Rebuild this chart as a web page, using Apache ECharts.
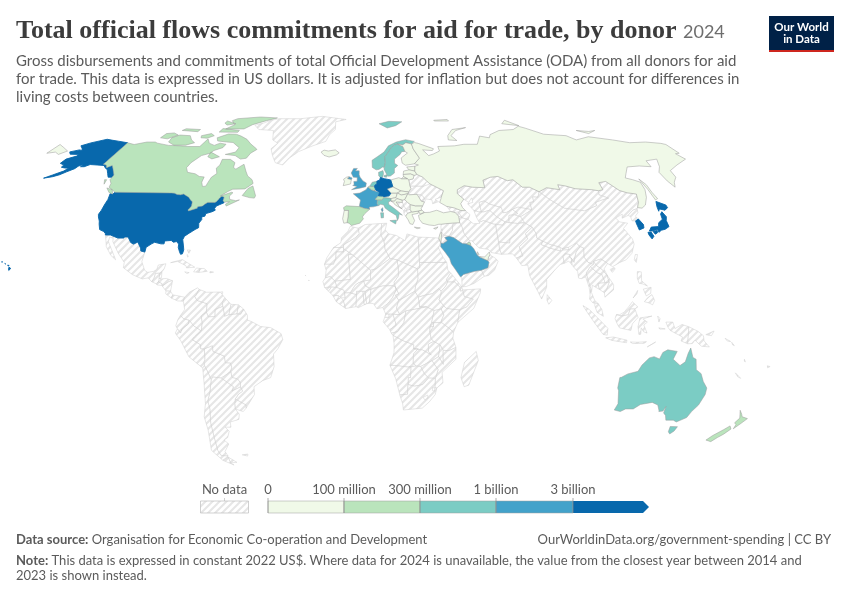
<!DOCTYPE html>
<html><head><meta charset="utf-8">
<script src="https://cdn.jsdelivr.net/npm/echarts@6/dist/echarts.min.js"></script>
<style>html,body{margin:0;padding:0;background:#fff}#c{width:850px;height:600px}</style>
</head><body><div id="c"></div>
<script>
// ---- chart values ----
const donorNames = ["United States","Germany","Japan","South Korea","France","United Kingdom","Saudi Arabia","Norway","Sweden","Denmark","Netherlands","Italy","Australia","Canada","Spain","Switzerland","Belgium","New Zealand","Kuwait","Luxembourg","Ireland","Finland","Austria","Poland","Portugal","Greece","Iceland","Russia","Turkey","United Arab Emirates","Qatar","Israel","Czechia","Slovakia","Hungary","Slovenia","Croatia","Bulgaria","Romania","Estonia","Latvia","Lithuania","Cyprus"];
const donorValues = [5.5e9,5e9,7e9,3.5e9,2e9,2.1e9,1.5e9,5e8,5e8,4.5e8,5e8,6e8,6e8,2.5e8,2e8,2.5e8,1.5e8,1.2e8,2e8,6e7,8e7,8e7,7e7,4e7,2e7,5e6,5e6,5e6,9e7,9e7,3e7,5e6,1e7,5e6,2e7,5e6,3e6,2e6,5e6,2e6,2e6,2e6,1e6];
const binLimits = [0,1e8,3e8,1e9,3e9];
const binLabels = ["0","100 million","300 million","1 billion","3 billion"];
const binColors = ["#f0f9e8","#bae4bc","#7bccc4","#43a2ca","#0868ac"];
const robinsonX = [1,.9986,.9954,.99,.9822,.973,.96,.9427,.9216,.8962,.8679,.835,.7986,.7597,.7186,.6732,.6213,.5722,.5322];
const robinsonY = [0,.062,.124,.186,.248,.31,.372,.434,.4958,.5571,.6176,.6769,.7346,.7903,.8435,.8936,.9394,.9761,1];

// ---- country outlines, lon,lat rings ----
const outlines = {
"Greenland":"-73,78.2 -68,76 -58,75.5 -55,71 -51,69.5 -53.5,67 -51,64 -48,61 -43.5,60 -41,63 -37,65.7 -30,68.2 -22.5,70.3 -21,73.5 -18,76 -19,80 -12,81.5 -30,83.5 -45,82 -60,82 -65,81 -68,79.5",
"Mexico":"-117.1,32.5 -114.8,32.5 -111,31.33 -108.2,31.33 -108.2,31.75 -106.5,31.75 -104.5,29.6 -103.1,29 -101.4,29.8 -99.5,27.5 -99.1,26.4 -97.2,25.95 -97.8,22.3 -96,19 -94.5,18.2 -92,18.6 -90.7,19.3 -90.3,21 -87,21.5 -87.5,19.5 -88.3,18.4 -89.1,17.9 -91,17.8 -91.4,16 -92.2,14.6 -94,16.1 -96.5,15.7 -101,17.3 -105.5,20 -105.5,22 -109,25.6 -112.7,30 -113,31.2 -114.8,31.7 -114.7,30 -110.5,24.5 -109.5,23 -112,24.7 -115,28 -116,30.5",
"Guatemala":"-92.2,14.6 -91.4,16 -91,17.8 -89.1,17.9 -89.2,15.9 -88.2,15.7 -89.3,14.5 -90.1,13.8",
"Belize":"-89.1,17.9 -88.3,18.4 -88.2,16.2 -89.2,15.9",
"Honduras":"-89.2,15.9 -88.2,15.7 -86,15.9 -83.2,15 -84.7,14.7 -87.5,13 -87.8,13.2 -87.7,13.9 -89.3,14.5",
"El Salvador":"-90.1,13.8 -89.3,14.5 -87.7,13.9 -87.8,13.2 -89.8,13.4",
"Nicaragua":"-87.5,13 -84.7,14.7 -83.2,15 -83.7,11 -85.7,11.1",
"Costa Rica":"-85.7,11.1 -83.7,11 -82.6,9.6 -83,8.3 -85.7,10",
"Panama":"-83,8.3 -82.6,9.6 -80,9.2 -77.4,8.7 -77.9,7.2 -80.4,7.3",
"Cuba":"-85,21.9 -80,23.1 -74.1,20.2 -77.7,19.9 -78,20.7 -82,22.4",
"Haiti":"-74.4,18.4 -72,18.2 -71.7,19.7 -73.3,19.9",
"Dominican Republic":"-71.7,19.7 -72,18.2 -68.4,18.6 -69.9,19.7",
"Jamaica":"-78.3,18.4 -76.3,18.1 -77.3,17.8",
"Puerto Rico":"-67.2,18.5 -65.6,18.3 -66,18 -67.2,18",
"Bahamas":"-78.5,26.8 -77,26.7 -77.5,25.5|-78.2,25 -77.5,24.5 -77.8,24",
"Trinidad":"-61.9,10.7 -61,10.8 -61,10.1 -61.9,10.1",
"Cape Verde":"-25.3,17.1 -24.9,17.1 -25,16.8|-23.7,15.3 -23.4,15.1 -23.6,14.9",
"Colombia":"-77.4,8.7 -75.5,10.6 -72,12.3 -71.3,11.7 -72.5,9.5 -73,9 -72,7.5 -67.5,6.2 -67.8,3 -70,1.5 -69.5,-1 -70,-4.2 -73.2,-2.3 -75.2,-0.1 -77.5,0.4 -79,1.7 -77.2,4 -77.9,7.2",
"Venezuela":"-71.3,11.7 -68,10.6 -62,10.7 -60,8.5 -61,6.7 -60.7,5.2 -64,4 -64,1.3 -66.9,1.2 -67.8,3 -67.5,6.2 -72,7.5 -73,9 -72.5,9.5",
"Guyana":"-60,8.5 -57.2,6 -58,2 -59.9,1.4 -60.7,5.2 -61,6.7",
"Suriname":"-57.2,6 -54,5.8 -54.5,2.3 -58,2",
"French Guiana":"-54,5.8 -51.7,4.2 -52.9,2.2 -54.5,2.3",
"Ecuador":"-79,1.7 -77.5,0.4 -75.2,-0.1 -75.5,-1.5 -78.3,-3.4 -79,-5 -80.3,-3.4 -81,-2.2 -80,0.3",
"Peru":"-80.3,-3.4 -79,-5 -78.3,-3.4 -75.5,-1.5 -75.2,-0.1 -73.2,-2.3 -70,-4.2 -73,-6.5 -74,-7.5 -70.5,-9.5 -70.6,-11 -69,-11 -69,-15 -69.5,-16 -69.5,-17.5 -70.4,-18.35 -76,-14 -79,-8 -81.3,-5",
"Bolivia":"-69,-11 -65.4,-9.8 -65.3,-12 -60.5,-13.8 -60.2,-16.3 -58,-16.4 -57.6,-18 -58.2,-19.8 -62.7,-22.2 -66.3,-21.8 -67.2,-22.8 -68.5,-19.5 -69.5,-17.5 -69.5,-16 -69,-15",
"Brazil":"-51.7,4.2 -50,1.8 -50,0 -48,-0.7 -44.3,-2.5 -40,-2.9 -35.5,-5.2 -34.8,-7.5 -37,-11 -39,-13 -39,-17.8 -40.8,-22 -44.5,-23.2 -48.5,-25.5 -48.7,-28.5 -52,-32.2 -53.4,-33.7 -53.2,-32.5 -57.6,-30.2 -55.8,-28.3 -53.8,-27.2 -54.6,-25.6 -54.3,-24 -55.6,-22.5 -57.9,-22 -58.2,-19.8 -57.6,-18 -58,-16.4 -60.2,-16.3 -60.5,-13.8 -65.3,-12 -65.4,-9.8 -69,-11 -70.6,-11 -70.5,-9.5 -74,-7.5 -73,-6.5 -70,-4.2 -69.5,-1 -70,1.5 -67.8,3 -66.9,1.2 -64,1.3 -64,4 -60.7,5.2 -59.9,1.4 -58,2 -54.5,2.3 -52.9,2.2",
"Paraguay":"-58.2,-19.8 -57.9,-22 -55.6,-22.5 -54.3,-24 -54.6,-25.6 -58.6,-27.2 -57.7,-25.5 -60,-24 -62.7,-22.2",
"Uruguay":"-57.6,-30.2 -53.2,-32.5 -53.4,-33.7 -54.9,-35 -58.4,-34 -58.2,-32",
"Argentina":"-66.3,-21.8 -62.7,-22.2 -60,-24 -57.7,-25.5 -58.6,-27.2 -54.6,-25.6 -53.8,-27.2 -55.8,-28.3 -57.6,-30.2 -58.2,-32 -58.4,-34 -57,-36 -57.7,-38 -62,-39 -62.3,-41 -65,-41 -63.7,-42.6 -65.3,-45 -67.5,-46 -65.8,-47.5 -69,-50.5 -68.4,-52.3 -71.9,-52 -72.4,-50 -71.8,-45 -71.3,-39.5 -70,-34 -70.2,-31 -68.5,-27.5 -67.2,-22.8|-68.6,-52.7 -65.2,-54.8 -68.6,-55",
"Chile":"-70.4,-18.35 -69.5,-17.5 -68.5,-19.5 -67.2,-22.8 -68.5,-27.5 -70.2,-31 -70,-34 -71.3,-39.5 -71.8,-45 -72.4,-50 -71.9,-52 -68.4,-52.3 -72,-54 -75.5,-50 -73.5,-42 -73.5,-37 -71.5,-32 -70.5,-24|-68.6,-52.7 -68.6,-55 -67.3,-55.9 -72,-54",
"Falkland Islands":"-61,-51.8 -58,-51.5 -58.5,-52.3",
"Ukraine":"22.6,49.1 24,50.5 23.6,51.5 30.5,51.4 34,52.3 40,49.6 38.3,47.1 35,46.2 36.5,45.3 33.5,44.5 33.5,46 30.7,46.4 29.7,45.2 28.2,45.5 30,46.4 29,47.8 26.6,48.2 22.9,48 22.1,48.4",
"Belarus":"23.6,51.5 23.6,52.6 23.5,53.9 25.8,54.3 26.6,55.7 28.2,56.1 31,55 32.7,53.3 30.5,51.4",
"Moldova":"26.6,48.2 29,47.8 30,46.4 28.2,45.5",
"Serbia":"18.9,45.9 20.3,46.1 21.5,45 22.7,44.2 22.4,42.3 20.6,41.9 20.3,42.8 19.5,43.5 19,45",
"Bosnia":"16,45.2 19,45 19.5,43.5 18.5,42.6 17.5,43.1",
"Montenegro":"18.5,42.6 19.5,43.5 20.3,42.8 19.3,41.9",
"Albania":"19.3,41.9 20.6,41.9 21,40.8 20,39.7 19.3,40.5",
"North Macedonia":"20.6,41.9 22.4,42.3 23,41.3 21,40.8",
"Georgia":"40,43.5 43.5,42.9 46.4,41.9 45,41.3 43.5,41.1 41.5,41.5",
"Armenia":"43.5,41.1 45,41.3 46.5,39 44.8,39.7",
"Azerbaijan":"45,41.3 46.4,41.9 48.6,41.8 50.3,40.3 49,38.4 46.5,39",
"Kazakhstan":"47,48 49,46.3 51,45 53,46.8 53,45 50.3,44.5 52.5,42 54.8,41.3 56,41.3 56,45 58.6,45.6 61,44.3 66,43 66,41 67.9,41.2 71,42.3 74,43.2 80.2,42.2 80.5,45 82.5,45.2 83,47.2 85.5,47 87.3,49.2 83.5,51 80,51 77,54 74,53.6 70,55.3 66,55 61.5,53.8 61,50.8 55,51 51,51.6 47,50 46.5,48.5",
"Uzbekistan":"56,41.3 56,45 58.6,45.6 61,44.3 66,43 66,41 67.9,41.2 71,42.3 73,40.8 71,40.2 68.5,40 67.7,37.2 65.8,37.5 62.5,39.5 60,42 57,41.3",
"Turkmenistan":"52.5,42 54.8,41.3 56,41.3 57,41.3 60,42 62.5,39.5 65.8,37.5 64.5,36.2 61.2,36.6 60.5,36.6 56,38 53.9,37.3 53,39.5",
"Kyrgyzstan":"71,42.3 74,43.2 80.2,42.2 76,40.4 73.8,39.5 71,39.9 71,40.2 73,40.8",
"Tajikistan":"68.5,40 71,40.2 71,39.9 73.8,39.5 75,37.4 71.5,36.9 67.7,37.2",
"Afghanistan":"61.2,36.6 64.5,36.2 65.8,37.5 67.7,37.2 71.5,36.9 74.9,37.2 71.5,34.5 70,33 66.5,31 66,29.4 61,29.8 61,34",
"Pakistan":"61,29.8 66,29.4 66.5,31 70,33 71.5,34.5 74.9,37.2 77.8,35.5 74,33 74.5,31 70,28 71,24.5 68,23.7 66.5,25.3 61.6,25.1 61,27",
"Iran":"44.8,39.7 46.5,39 49,38.4 51,36.8 54,36.9 53.9,37.3 56,38 60.5,36.6 61.2,36.6 61,34 61,29.8 61,27 61.6,25.1 57,25.8 56,27 52,27.5 49,30.3 48,30.3 46,33 45.5,35.5 44.8,37.2",
"Iraq":"42.4,37.1 44.8,37.2 45.5,35.5 46,33 48,30.3 47.7,29.8 46.5,29.1 44.7,29.2 41,31.5 39,32 41,34.4 41.2,36.4",
"Syria":"36.1,36.6 38,36.8 42.4,37.1 41.2,36.4 41,34.4 39,32 36.8,32.3 35.9,33.5 35.8,35.5",
"Lebanon":"35.1,33.1 35.9,33.5 36.4,34.6 35.9,34.6",
"Jordan":"35,29.5 35.5,31.5 35.7,32.7 36.8,32.3 39,32 37,31.5 38,30.3 36,29.2",
"Oman":"56.4,24.9 58.7,23.6 59.8,22.5 57.8,19 55,17 53.1,16.7 52,19 55,20 55.7,22 55.2,22.7 55.7,24",
"Yemen":"43.2,12.7 45,12.8 48.5,14 53.1,16.7 52,19 49,18.6 44,17.4 43.2,16.7",
"India":"77.8,35.5 78.9,33 78.7,31.3 81,30.2 80.1,28.8 84,27.4 88.2,26.4 89,26.8 92,26.9 96,29.4 97.3,28 95,26 94,24 93.3,22 92.3,23.7 91.5,24.1 92,25 89.8,25.3 88.8,24.3 88.9,21.7 87,21.2 85,19.7 80.3,15.5 80,12.5 77.5,8 76,11 73,17 72.7,21 70,20.8 69,22.3 68,23.7 71,24.5 70,28 74.5,31 74,33",
"Nepal":"80.1,28.8 81,30.2 84,28.9 88.2,27.9 88.2,26.4 84,27.4",
"Bhutan":"89,27.3 92,27.8 92,26.9 89,26.8",
"Bangladesh":"88.8,24.3 89.8,25.3 92,25 91.5,24.1 92.3,23.7 92.3,21 91,22.5 88.9,21.7",
"Sri Lanka":"80,9.7 81.9,7.5 80.5,6 79.8,7.5",
"China":"73.8,39.5 76,40.4 80.2,42.2 80.5,45 82.5,45.2 83,47.2 85.5,47 87.3,49.2 91,46 96,42.8 105,41.8 112,43.8 112,45 116,46 119.7,46.7 116,48 117,49.6 119.5,50 120,52.8 124,53.3 127.5,49.7 130.5,48.8 134.7,48.3 133,45.1 131,43 130.5,42.6 128,42 124.4,40 121,38.9 122,40.5 118,39 119,37.5 122.5,37 119.5,35 121.8,31 121.8,29 119.7,25.5 116.5,23 113.5,22 110,20.4 108,21.6 106.7,22.5 105.3,23.3 102,22.4 101.7,21.2 99.5,22 98,24 98.7,27.5 97.3,28 96,29.4 92,27.8 89,27.3 88.2,27.9 84,28.9 81,30.2 78.7,31.3 78.9,33 77.8,35.5 74.9,37.2 75,37.4|108.7,19.3 110.5,20.1 111,19.6 109.5,18.2",
"Taiwan":"121,25 122,25 120.8,22 120.1,23",
"Mongolia":"87.3,49.2 92,50.8 98,50 98.5,52 102,51.5 106,50.4 114,50 117,49.6 116,48 119.7,46.7 116,46 112,45 112,43.8 105,41.8 96,42.8 91,46",
"North Korea":"124.4,40 128,42 130.5,42.6 130.7,42.3 129.7,41 127.6,39.7 128.4,38.6 126.7,37.9 125,37.9 125.3,39.5",
"Myanmar":"92.3,20.8 92.3,23.7 93.3,22 94,24 95,26 97.3,28 98.7,27.5 98,24 99.5,22 101.7,21.2 100.2,20.4 98,18 98.5,15 99.2,12 98.7,10 98.5,12.5 97.5,16.5 95.5,15.8 94.3,16 94.3,18.5",
"Thailand":"100.2,20.4 101,19.6 103,18 104.7,17.5 105.5,15 105.5,14.2 102.5,14 102.9,11.7 101,12.7 100,13.3 99.3,10.5 100.5,7.5 102,6.2 100.5,6.5 99.7,6.5 98.3,8 98.7,10 99.2,12 98.5,15 98,18",
"Laos":"102,22.4 103,20.8 105,19.5 107,17 107.5,14.5 105.5,14.2 105.5,15 104.7,17.5 103,18 101,19.6 100.2,20.4 101.7,21.2",
"Vietnam":"102,22.4 105.3,23.3 106.7,22.5 108,21.6 106,19.5 107.2,16.8 109.3,13.5 109,11.5 105,8.7 104.9,10.4 106,11.7 107.5,14.5 107,17 105,19.5 103,20.8",
"Cambodia":"102.9,11.7 102.5,14 105.5,14.2 107.5,14.5 106,11.7 104.9,10.4",
"Malaysia":"100.5,6.5 102,6.2 103.4,4 104,1.4 101.3,2.9 100.4,5.5|109.6,2 112,1.5 114.8,2 115.7,4.2 117.7,4.2 119,5 116.8,7 115,5 113,3 111,2",
"Indonesia":"95.3,5.5 98,4 103.5,-1 106,-3.2 105.8,-5.8 104,-5.5 100.5,-1.5 97,3|105.2,-6.8 108.5,-6.5 114.5,-7.7 114.4,-8.7 108,-7.8|109,0.5 109.6,2 112,1.5 114.8,2 115.7,4.2 117.7,4.2 119,1 116.5,-1.5 116,-4 111,-3 110,-1.5|119.8,0.8 125,1.5 121,0.4 123,-0.8 121.5,-1.9 123,-5 121.5,-4.5 120.4,-3 120.3,-5.5 119.5,-5.5 119,-2.5|131,-0.8 134,-0.8 135,-3.3 138,-1.7 141,-2.6 141,-9.1 138,-8 138.5,-6.5 133,-4 132,-2.8|116,-8.4 119,-8.5 123,-8.3 122,-8.9 117,-9|123.5,-10.3 127,-8.4 125,-9.5|127.5,1.5 128.5,0.5 128,-0.8|128,-3 130.8,-3.4 128.5,-3.5",
"Papua New Guinea":"141,-2.6 145,-4.3 147.5,-6 148,-8 150.5,-10.3 147,-10 144,-7.7 143,-9 141,-9.1|148.5,-5.6 152,-4.2 151,-6",
"Philippines":"120.5,18.5 122.2,18.4 121.7,15 124,13 122,13.8 120.5,14 120,16|122,7 123.5,8.5 125.5,9.7 126.5,7.5 125.5,5.8 124,6.5|122,11.8 125.5,12.5 125,10.2 123,9.2|117.2,8.4 119.5,11.3 119,10",
"Solomon Islands":"157,-7 159.5,-8.2 158,-8|160,-8.5 161.3,-9.8 160.5,-9.5",
"Vanuatu":"166.6,-15 167.3,-16 166.8,-15.8",
"New Caledonia":"164,-20.2 167,-22.3 165.5,-21.7",
"Fiji":"177.3,-17.5 178.6,-17.8 177.7,-18.3",
"Morocco":"-5.9,35.8 -2.2,35.1 -1.7,33 -3.5,31.4 -8.7,28.7 -8.7,27.7 -13.2,27.7 -10,29.5 -9.7,31.5 -6.8,34",
"Western Sahara":"-13.2,27.7 -8.7,27.7 -8.7,26 -12,26 -12,23.5 -13,21.3 -17,21.3 -16,23.8",
"Mauritania":"-17,21.3 -13,21.3 -12,23.5 -12,26 -8.7,26 -8.7,27.3 -4.8,25 -6.5,25 -5.5,15.5 -12.2,14.8 -14.4,16.6 -16.5,16.1 -16.2,19",
"Algeria":"-2.2,35.1 1,36.5 8.6,36.9 8.2,32.5 9.5,30 9.9,27 12,23.5 5.8,19.5 3.3,19 -4.8,25 -8.7,27.3 -8.7,28.7 -3.5,31.4 -1.7,33",
"Tunisia":"8.6,36.9 11,37 10.2,34.5 11.5,33 9.5,30 8.2,32.5",
"Libya":"11.5,33 15.2,32.3 19,30.3 20,32.9 25,31.7 25,20 24,19.5 15,23 12,23.5 9.9,27 9.5,30",
"Egypt":"25,31.7 31,31.5 34.2,31.3 34.9,29.5 33.8,27.5 35.5,24 37,22 25,22",
"Sudan":"25,22 37,22 37.3,19 38.5,18 36.5,15.5 37,14.5 36.1,13 34,11 33,12 30,10 27,9.5 24,8.7 22.5,11 22.9,13 24,15.7 24,19.5 25,20",
"South Sudan":"24,8.7 27,9.5 30,10 33,12 34,11 34,10 33,7.7 35,5.4 33.9,4.2 30.8,3.6 27.5,5 24.5,5",
"Chad":"15,23 24,19.5 24,15.7 22.9,13 22.5,11 18.7,9 15.5,7.5 14,9.5 15.5,10 14,12.8 13.5,14.4 15.5,16.9 15.5,20",
"Niger":"12,23.5 15,23 15.5,20 15.5,16.9 13.5,14.4 14,12.8 12.5,13.1 8.5,13 3.7,12 3.5,11.7 1,13 0.2,14.9 3.3,15.4 3.3,19 5.8,19.5",
"Mali":"-4.8,25 3.3,19 3.3,15.4 0.2,14.9 -2,14.2 -3.4,13.3 -5.5,10.4 -8,10.3 -8.4,11.4 -11.4,12.4 -12.2,14.8 -5.5,15.5 -6.5,25",
"Senegal":"-17.5,14.7 -16.5,16.1 -14.4,16.6 -12.2,14.8 -11.4,12.4 -13.7,12.6 -16.7,12.4",
"Guinea-Bissau":"-16.7,12.4 -13.7,12.6 -15,11",
"Guinea":"-13.7,12.6 -11.4,12.4 -8.4,11.4 -8,10.3 -7.7,8.5 -9.5,8.5 -10.7,9.3 -13.2,9.5 -15,11",
"Sierra Leone":"-13.2,9.5 -10.7,9.3 -10.7,8.3 -11.5,6.9",
"Liberia":"-11.5,6.9 -10.7,8.3 -9.5,8.5 -8.5,7.5 -7.5,4.4",
"Ivory Coast":"-8.5,7.5 -7.7,8.5 -8,10.3 -5.5,10.4 -2.8,9.7 -3,5.1 -7.5,4.4",
"Ghana":"-3,5.1 -2.8,9.7 -2.8,11 0,11 0.5,6 1.2,6.1 -2,4.7",
"Togo":"0,11 0.9,11 1.6,6.2 1.2,6.1 0.5,6",
"Benin":"0.9,11 2,11.5 3.5,11.7 2.7,6.4 1.6,6.2",
"Burkina Faso":"-5.5,10.4 -3.4,13.3 -2,14.2 0.2,14.9 1,13 3.5,11.7 2,11.5 0.9,11 0,11 -2.8,11 -2.8,9.7",
"Nigeria":"2.7,6.4 3.5,11.7 3.7,12 8.5,13 12.5,13.1 14,12.8 14.5,11.5 12.8,8.5 11,6.5 8.6,4.8 6,4.3 4.5,6.3",
"Cameroon":"8.6,4.8 11,6.5 12.8,8.5 14.5,11.5 14,12.8 15.5,10 14,9.5 15.5,7.5 14.5,4.5 16,2 13,2.2 9.8,2.3",
"Central African Republic":"14.5,4.5 15.5,7.5 18.7,9 22.5,11 24,8.7 24.5,5 27.5,5 22.5,4.1 18.6,3.5 16,2",
"Equatorial Guinea":"9.8,2.3 11.3,2.2 11.3,1 9.4,1",
"Gabon":"9.4,1 11.3,1 11.3,2.2 13,2.2 14.4,-2 11.6,-3.7 8.7,-0.7",
"Congo":"13,2.2 16,2 18.6,3.5 17.7,-1 16,-3 15,-4.5 12.2,-5 11.6,-3.7 14.4,-2",
"Democratic Republic of Congo":"18.6,3.5 22.5,4.1 27.5,5 30.8,3.6 29.7,-1 29,-2.7 29,-4.5 29.5,-7 30.7,-8.2 28.4,-9.2 28.5,-12 29.8,-13.4 26,-11.5 22,-11 22,-9.5 17.5,-8 13,-5.9 12.2,-5 15,-4.5 16,-3 17.7,-1",
"Uganda":"30.8,3.6 33.9,4.2 35,1.9 34,0 34,-1 30.5,-1 29.7,-1",
"Kenya":"33.9,4.2 35,5.4 36,4.5 40,4 41.9,3.9 41,-0.9 39.2,-4.7 37.7,-3.5 34,-1 34,0 35,1.9",
"Eritrea":"36.5,15.5 38.5,18 43,12.7 42.3,12.5 40,14.5 37,14.5",
"Ethiopia":"33,7.7 34,10 34,11 36.1,13 37,14.5 40,14.5 42.3,12.5 42.5,11 43.4,11.5 44,9 47.9,8 45,5 41.9,3.9 40,4 36,4.5 35,5.4",
"Djibouti":"43,12.7 43.4,11.5 42.5,11 42.3,12.5",
"Somalia":"43.4,11.5 51.2,11.9 51,10.4 48,4.5 41,-0.9 41.9,3.9 45,5 47.9,8 44,9",
"Tanzania":"34,-1 37.7,-3.5 39.2,-4.7 39,-7 40.4,-10.5 37.5,-11.7 34.9,-11.6 33.5,-9.6 30.7,-8.2 29.5,-7 29,-4.5 30.5,-2.4 30.5,-1",
"Rwanda":"29.7,-1 30.5,-1 30.5,-2.4 29,-2.7",
"Burundi":"29,-2.7 30.5,-2.4 29,-4.5",
"Angola":"13,-5.9 17.5,-8 22,-9.5 22,-11 24,-11 22,-13 22,-16.5 23.4,-17.6 20,-18 14,-17.4 11.8,-17.3 13.5,-12.5 13.5,-9",
"Zambia":"22,-11 26,-11.5 29.8,-13.4 28.5,-12 28.4,-9.2 30.7,-8.2 33.5,-9.6 33,-14 30.2,-15.6 28,-16.5 25.3,-17.8 23.4,-17.6 22,-16.5 22,-13 24,-11",
"Malawi":"33.5,-9.6 34.9,-11.6 35,-14 35.2,-17 33,-14",
"Mozambique":"34.9,-11.6 37.5,-11.7 40.4,-10.5 40.6,-15 36,-19 34.8,-20 35.5,-24 32.9,-26 32,-26 32,-22.3 33,-19 30.2,-15.6 33,-14 35.2,-17 35,-14",
"Zimbabwe":"25.3,-17.8 28,-16.5 30.2,-15.6 33,-19 32,-22.3 29,-22.2 27,-20.5",
"Botswana":"20,-18 23.4,-17.6 25.3,-17.8 27,-20.5 29,-22.2 26.5,-24.7 23,-25.3 20,-24.7 20,-22 21,-22 21,-18",
"Namibia":"11.8,-17.3 14,-17.4 20,-18 21,-18 21,-22 20,-22 20,-28.4 16.5,-28.6 14.5,-22.5",
"South Africa":"16.5,-28.6 20,-28.4 20,-24.7 23,-25.3 26.5,-24.7 29,-22.2 32,-22.3 32,-26 32.9,-26 32.4,-28.5 30,-31.3 27,-33.7 22,-34.1 18.5,-34.4 18,-32",
"Lesotho":"27,-29.6 29,-28.7 29.3,-29.8 28,-30.6",
"Eswatini":"31,-25.8 32,-26 32,-27.2 31,-27",
"Madagascar":"49.3,-12 50.4,-15.5 47,-24.9 45,-25.5 43.3,-22 44.4,-16.2",

"United States":"-124.7,48.4 -123.3,48.2 -122.8,49 -95.15,49 -94.6,48.7 -93,48.6 -91.5,48.1 -89.6,48 -88.4,48.3 -84.9,46.9 -84.5,46.5 -83.6,46.1 -83.5,45.8 -82.5,45.3 -82.1,43.6 -82.5,42.9 -83.1,42.2 -82.7,41.7 -79,42.8 -79.1,43.3 -76.8,43.6 -76.4,44.1 -75,45 -71.5,45 -70.8,45.4 -70.3,46.2 -70,46.7 -69.2,47.45 -68.3,47.35 -67.8,47.05 -67.8,45.7 -67,44.9 -69,44.1 -70.2,43.6 -70.7,42.7 -70.1,42 -71.4,41.4 -74,40.7 -74.1,39.7 -75.5,39.4 -75.1,38.4 -76,37 -75.5,35.3 -76.9,34.6 -78,33.9 -79.2,33.2 -81,32 -81.4,30.7 -80.5,28.3 -80.05,26.8 -80.3,25.3 -81.1,25.1 -81.8,26.1 -82.7,27.7 -82.8,29 -84,30 -85.3,29.7 -86.5,30.4 -88,30.3 -89.4,30.2 -89.4,29.1 -90.8,29.1 -93.8,29.7 -95,29.1 -97.1,27.8 -97.2,25.95 -99.1,26.4 -99.5,27.5 -101.4,29.8 -103.1,29 -104.5,29.6 -106.5,31.75 -108.2,31.75 -108.2,31.33 -111,31.33 -114.8,32.5 -117.1,32.5 -117.3,33 -118.4,33.8 -120.6,34.55 -121.9,36.6 -122.5,37.8 -123.8,39.4 -124.4,40.4 -124.1,42 -124.1,44 -124,46.2|-141,69.65 -141,60.3 -139,60 -137.5,58.9 -135.5,59.8 -133.4,58.4 -130,55.9 -130,55 -132,55 -134,56.5 -136,58 -138,58.8 -140,59.8 -144,60 -148,60.2 -150,59.3 -152,59.3 -151.8,60.8 -150,61.2 -153.5,59.5 -154,58.5 -156.5,57.2 -158.5,56 -161,55.2 -164.9,54.6 -162,55.9 -158.5,57.5 -157.5,58.7 -160,58.8 -162,59.1 -162,60 -165,60.7 -164.8,62.5 -161,63.8 -161,64.5 -166,64.6 -168,65.6 -164,66.5 -162,66.2 -163.8,67.2 -166.5,68.3 -163,69.6 -156.5,71.3 -152,70.8 -148,70.4|-155.9,20.2 -155,19.7 -155.7,18.95 -156,19.7|-156.7,21 -156,20.8 -156.4,20.6|-158.2,21.6 -157.7,21.4 -158,21.3|-159.8,22.2 -159.3,22.2 -159.5,21.9",
"Canada":"-141,69.65 -136,68.9 -130,70 -125,70 -123,69.5 -115,68.5 -108,68.3 -103,68 -96,68 -95,71.5 -92,69.5 -88,68.5 -85.5,69.5 -81.5,69 -82,67.5 -86,66.2 -87,65 -91,64 -94,61 -94.6,58.9 -92.5,57 -88,56.4 -85,55.3 -82.3,55.1 -82.2,53 -80.8,51.3 -79.2,51.4 -79,52.8 -78.5,55 -76.7,56.5 -78.5,58.7 -77.5,60 -78,62.4 -73.5,62.4 -70,61 -69.5,59 -67.8,58.3 -65.5,59.8 -64.6,60.3 -62,57.5 -60,55.5 -57,54 -55.8,52.5 -59,50.3 -65,50.2 -67,49.3 -70,47.5 -65,49 -64.3,48.8 -65.5,47.5 -64.8,46.2 -61.7,45.7 -60,46 -65.5,43.6 -66.1,44.3 -64.5,45.3 -67,45.1 -67.8,45.7 -67.8,47.05 -68.3,47.35 -69.2,47.45 -70,46.7 -70.3,46.2 -70.8,45.4 -71.5,45 -75,45 -76.4,44.1 -76.8,43.6 -79.1,43.3 -79,42.8 -82.7,41.7 -83.1,42.2 -82.5,42.9 -82.1,43.6 -82.5,45.3 -83.5,45.8 -83.6,46.1 -84.5,46.5 -84.9,46.9 -88.4,48.3 -89.6,48 -91.5,48.1 -93,48.6 -94.6,48.7 -95.15,49 -122.8,49 -123.3,49.3 -125,50 -127.5,51 -128,52.5 -130,54 -130,55.9 -133.4,58.4 -135.5,59.8 -137.5,58.9 -139,60 -141,60.3|-128.3,50.7 -125,50 -123.4,48.4 -125.5,48.8|-132.8,54 -131.7,54 -131.2,52.2|-59.3,47.7 -55.5,46.9 -53,46.7 -52.7,47.6 -54,49.5 -55.5,51.5 -57.5,50.5|-61.5,66.7 -64,65 -65,62.9 -68,62.5 -72,64 -78,64.5 -73,65.5 -72.5,67.5 -78,69.8 -82,70 -88,70.5 -90,72 -85,73.8 -80,73.7 -76,72.8 -71,71.3 -67,69.2 -62,67|-117,70 -112,68.6 -105,68.6 -101,69.7 -104.5,71 -108,73 -115,73.3 -118,72|-125,72 -120,71.5 -116,73.3 -120,74.3 -124.5,74|-87,65.5 -80.5,63.5 -84,62.6 -87,63.5|-117,75.5 -106,74.9 -106,76 -116,76.4|-92,76.5 -80,75.5 -80,74.6 -92,74.7|-90,76.3 -78,76.3 -75,78.5 -68,80.7 -62,82.5 -75,83.1 -90,82 -92,80.7 -87,78.5|-95,80.5 -87,79 -92,78.3 -95,79.3|-100,72 -96,71.8 -93,73 -96,74 -101,73",
"Iceland":"-24,65.5 -22,64.1 -19,63.4 -15,64.3 -13.6,65.2 -16,66.5 -20,66 -22.5,66.4",
"United Kingdom":"-5.7,50 -1,50.7 1.4,51.2 1.7,52.7 0,53.5 -1.5,55 -2,56 -2,57.6 -4,57.6 -3,58.6 -5,58.6 -6.2,56.7 -5,55 -3,54.9 -3,53.4 -4.7,53.3 -4.5,52 -5.2,51.7 -3,51.3|-8,54.4 -7.3,55.2 -5.6,54.7 -6,54",
"Ireland":"-8,54.4 -6,54 -6.3,52.3 -10,51.6 -9.5,53.3 -10,54.2 -8.5,55 -7.3,55.2",
"France":"-1.8,43.4 -1.2,46 -4.8,48.4 -1.5,48.7 1.5,50 2.5,51.1 4.2,50 5.9,49.5 8.2,49 7.6,47.6 6,46.3 7,45.9 6.8,44.5 7.5,43.8 5,43.3 3,43.2 3.2,42.4 0.7,42.7|8.6,42.4 9.4,43 9.5,41.7 9,41.4",
"Spain":"-1.8,43.4 0.7,42.7 3.2,42.4 0.9,40.7 -0.3,39.4 0.2,38.7 -1.5,37 -5.4,36.1 -6.4,37 -7.4,37.2 -7,39.5 -6.9,41.9 -8.9,41.9 -9.3,43 -8,43.7",
"Portugal":"-8.9,41.9 -6.9,41.9 -7,39.5 -7.4,37.2 -8.9,37 -9.5,38.7",
"Belgium":"2.5,51.1 3.4,51.4 5.8,51.2 6,50.7 6.1,50.1 5.9,49.5 4.2,50",
"Luxembourg":"5.9,49.5 6.1,50.1 6.5,49.8",
"Netherlands":"3.4,51.4 4.7,53 7.1,53.4 7.1,52.3 6,51.8 5.8,51.2",
"Switzerland":"6,46.3 7.6,47.6 9.6,47.5 10.4,46.9 9,45.9 7,45.9",
"Austria":"9.6,47.5 10.2,47.3 12.8,47.6 13.8,48.7 17,48.7 16.1,46.9 13.7,46.5 10.4,46.9",
"Italy":"7,45.9 9,45.9 10.4,46.9 13.7,46.5 13.6,45.7 12.3,45.2 12.4,44.2 13.6,43.5 16.1,41.9 18.5,40.1 17,40.5 16.6,39 16,38 15.7,38.2 15.6,40 12.3,41.7 10.5,42.9 10,44 8.5,44.3 7.5,43.8 6.8,44.5|12.5,38 15.6,38.2 15.1,36.7|8.3,41 9.7,41 9.6,39.1 8.5,39",
"Denmark":"8.2,55.5 9,54.9 10.2,55 10.8,56.5 10.6,57.7 8.2,57|11,55.7 12.6,56 12.2,55 11,55.1",
"Norway":"5,62 5,59 7,58 8.5,58.2 10.6,59.2 11.4,59 12.2,61 12.2,63.5 14,65 16.5,67.5 18.2,68.5 20.5,69.1 23.5,68.7 25.7,69.7 28.9,69.1 31,70.3 26,71.1 20,70 15,68.3 12,65.5 8,63.5|11,79 16,76.8 22,78 27,80 18,80.3",
"Sweden":"11.4,59 11.2,58.3 12.8,55.4 14.3,55.5 16.5,56.7 16.8,58.6 18.8,59.8 17.2,60.7 17.5,62.5 21,64.5 22.2,65.7 24.1,65.8 23.5,67.9 20.5,69.1 18.2,68.5 16.5,67.5 14,65 12.2,63.5 12.2,61",
"Finland":"24.1,65.8 25.3,65.1 21.3,63 21.4,60.8 23,59.9 28,60.5 31.5,62.9 29.2,66.9 28.9,69.1 25.7,69.7 23.5,68.7 20.5,69.1 23.5,67.9",
"Estonia":"24.4,58 23.5,59.2 28,59.5 27.4,57.5",
"Latvia":"21,56.1 21.5,57.5 24.4,58 27.4,57.5 28.2,56.1 26.6,55.7 25,56.3",
"Lithuania":"21,56.1 25,56.3 26.6,55.7 25.8,54.3 23.5,53.9 22.8,54.4 21,55.2",
"Poland":"14.2,53.9 18.5,54.8 19.8,54.4 22.8,54.4 23.5,53.9 23.6,52.6 23.6,51.5 24,50.5 22.6,49.1 18.8,49.5 15,51.1 14.6,52.6",
"Germany":"6,51.8 7.1,52.3 7.1,53.4 8.6,53.9 9,54.9 11,54.4 14.2,53.9 14.6,52.6 15,51.1 12.2,50.3 13.8,48.7 12.8,47.6 10.2,47.3 9.6,47.5 7.6,47.6 8.2,49 6.5,49.8 6.1,50.1 6,50.7 5.8,51.2",
"Czechia":"12.2,50.3 15,51.1 18.8,49.5 17,48.7 13.8,48.7",
"Slovakia":"17,48.7 18.8,49.5 22.6,49.1 22.1,48.4 18.8,47.9",
"Hungary":"16.1,46.9 17,48.7 18.8,47.9 22.1,48.4 20.3,46.1 18.9,45.9 16.5,46.5",
"Slovenia":"13.7,46.5 16.1,46.9 16.5,46.5 15.3,45.5 13.6,45.5",
"Croatia":"13.6,45.5 15.3,45.5 16.5,46.5 18.9,45.9 19,45 16,45.2 17.5,43.1 18.5,42.6 15.5,44 14.5,45.1",
"Greece":"20,39.7 21,40.8 23,41.3 26.3,41.7 26,40.8 23,40.3 24,38 23,36.5 21.7,36.8 21,38.3|23.6,35.5 26.3,35.2 24.8,34.9",
"Bulgaria":"22.7,44.2 25,43.7 28.6,43.7 27.6,42.5 28,42 26.3,41.7 23,41.3 22.4,42.3",
"Romania":"20.3,46.1 22.1,48.4 22.9,48 26.6,48.2 28.2,45.5 29.7,45.2 28.6,43.7 25,43.7 22.7,44.2 21.5,45",
"Turkey":"26,40 29,41.1 31.5,41.2 35,42 38,41 41.5,41.5 43.5,41.1 44.8,39.7 44.8,37.2 42.4,37.1 38,36.8 36.1,36.6 35,36.6 33,36.1 30.5,36.3 27.5,37 26.3,38.5|26.3,41.7 28,42 29,41.2 26.8,40.5",
"Cyprus":"32.4,35 34.5,35.6 33.5,34.7",
"Israel":"34.3,31.3 35.1,33.1 35.9,33.5 35.7,32.7 35.5,31.5 35,29.5",
"Saudi Arabia":"35,29.4 36,29.2 38,30.3 37,31.5 39,32 41,31.5 44.7,29.2 46.5,29.1 48.4,28.5 49.5,27.3 50.2,26 50.8,24.8 51.6,24.2 55.2,22.7 55.7,22 55,20 52,19 49,18.6 44,17.4 43.2,16.7 42.7,16.4 40.5,19.5 39,21.5 38.4,23.5 36.5,26 34.8,28",
"Kuwait":"46.5,29.1 47.7,29.8 48.3,29.5 48.4,28.5",
"Qatar":"50.8,24.8 51,26.1 51.6,25",
"United Arab Emirates":"51.6,24.2 54,24.1 56.3,26 56.4,24.9 55.7,24 55.2,22.7",
"Russia":"28,60.5 30,60 28,59.5 27.4,57.5 28.2,56.1 31,55 32.7,53.3 34,52.3 40,49.6 38.3,47.1 38,46.5 37,45 40,43.5 43.5,42.9 46.4,41.9 48.6,41.8 47.5,43 47,44.5 49,46.3 47,48 46.5,48.5 47,50 51,51.6 55,51 61,50.8 61.5,53.8 66,55 70,55.3 74,53.6 77,54 80,51 83.5,51 87.3,49.2 92,50.8 98,50 98.5,52 102,51.5 106,50.4 114,50 117,49.6 119.5,50 120,52.8 124,53.3 127.5,49.7 130.5,48.8 134.7,48.3 133,45.1 131,43 133,42.8 135.5,44 138.5,47 140.5,50 141.4,53 138.5,54 135.5,54.7 138,56.5 142,59.2 149,59.6 155,59.3 156,61.8 163,62.5 159.5,59.3 156,57 155.7,53.5 156.7,51 158.7,53 162,55 163,57.7 170,60 179,62.5 177.5,64.8 180,65 180,68.9 178,69.4 170,70 160,69.7 152,71 140,72.5 130,71 127,73 114,73.7 107,76.7 104,77.7 98,76 88,75.5 80,73.5 78,72 72.7,72.8 68,69 60,69 54,68.3 44,68 44,66 40,64.7 37,64 34.5,66.5 40,66.2 41,67 33,69.4 30.8,69.8 28.9,69.1 29.2,66.9 31.5,62.9|19.8,54.4 22.8,54.4 21,55.2|-180,68.9 -175,67.5 -170,66 -172.5,64.5 -176,65.5 -180,65|52,71 57,70.7 55,73 60,75.5 68,77 58,76 53,73|142,54.3 143.3,52 143,49 143.5,46.5 142,46 142,50|95,79 105,78 100,81|138,75.5 145,75 150,75.5 143,74|50,80.5 60,80.5 60,81.5 50,81",
"South Korea":"126.7,37.9 128.4,38.6 129.5,36.5 129,35.2 126.5,34.4 126.5,37",
"Japan":"130.9,34 132.5,35.5 136,35.7 137,37.2 139.5,38.5 140,40.5 141.3,41.4 142,39.5 141,38 140.8,35.7 138.5,34.7 136.5,34.3 135,33.5 135,34.6 132,34|130,33.5 131.5,33.6 132,32 130.7,31 130,32.5|132.5,33.8 134.6,34.2 134.2,33.3 133,32.8|140,41.6 140.5,43.3 141.7,45.4 145.3,44 145.3,43 143.3,42 141,42.5",
"Australia":"113.5,-22 114.2,-21.9 116.7,-20.6 121,-19.6 122.3,-17.2 125,-14.5 127,-14 129.5,-14.9 130.6,-12.4 132.6,-11.4 136.8,-12 135.5,-15 139,-17.4 141,-16 141.7,-12.7 142.5,-10.7 144,-14.3 145.5,-15 146.5,-19 149,-20.5 150.8,-23.5 153.2,-26 153.5,-28.5 152.5,-32.5 150.7,-35 150,-37.3 146.3,-39 144.5,-38.3 141,-38.3 139.7,-36.5 138.2,-35.5 138,-33 137.5,-34.8 135.7,-35 135.5,-34.5 134,-32.5 131,-31.5 126,-32.3 123.5,-34 120,-34 118,-35 115,-34.4 115.7,-32 114.2,-27 113.5,-26|144.7,-40.7 148.2,-40.8 148,-42.5 146.8,-43.6 145.5,-42.8",
"New Zealand":"172.7,-34.5 174.5,-36 175.5,-37 178.5,-37.7 177,-39.5 175.3,-41.6 175,-40 173.8,-39.3 174.8,-37.5|172.7,-40.5 174.3,-41.7 172.7,-43.7 171,-45 169.5,-46.6 166.5,-46 168,-44.2 171,-42"
};

// Robinson projection, scaled to the page
const mapX0 = 363, mapY0 = 320, mapKx = 132.5, mapKy = 211;
function rob(table, lat){
  const a = Math.min(Math.abs(lat), 90) / 5, i = Math.min(Math.floor(a), 17), f = a - i;
  return table[i] + (table[i+1] - table[i]) * f;
}
function project(p){
  const lon = p[0], lat = p[1];
  return [mapX0 + mapKx * rob(robinsonX, lat) * lon * Math.PI / 180,
          mapY0 - mapKy * rob(robinsonY, lat) * (lat < 0 ? -1 : 1)];
}
function unproject(q){
  const lat = (mapY0 - q[1]) / mapKy * 90;
  return [(q[0] - mapX0) / mapKx / rob(robinsonX, lat) * 180 / Math.PI, lat];
}

const features = Object.keys(outlines).map(name => {
  const rings = outlines[name].split('|').map(r => {
    const pts = r.trim().split(/\s+/).map(s => s.split(',').map(Number));
    pts.push(pts[0].slice());
    return pts;
  });
  return {type:'Feature', properties:{name}, geometry:{type:'MultiPolygon', coordinates: rings.map(r => [r])}};
});
echarts.registerMap('owid', {type:'FeatureCollection', features});

let x0=1e9,x1=-1e9,y0=1e9,y1=-1e9;
features.forEach(f => f.geometry.coordinates.forEach(poly => poly[0].forEach(p => {
  const q = project(p);
  x0=Math.min(x0,q[0]);x1=Math.max(x1,q[0]);y0=Math.min(y0,q[1]);y1=Math.max(y1,q[1]);
})));

function hatch(){
  const s = 7, c = document.createElement('canvas');
  c.width = c.height = s;
  const g = c.getContext('2d');
  g.fillStyle = '#fff'; g.fillRect(0,0,s,s);
  g.strokeStyle = '#e6e6e6'; g.lineWidth = 2;
  [[-s,s,s,-s],[0,s,s,0],[0,2*s,2*s,0]].forEach(l => {g.beginPath();g.moveTo(l[0],l[1]);g.lineTo(l[2],l[3]);g.stroke();});
  return {image:c, repeat:'repeat'};
}
const hatchFill = hatch();
function binOf(v){ let b = 0; binLimits.forEach((l,i)=>{ if (v >= l) b = i; }); return b; }
const seriesData = donorNames.map((name,i) => {
  const b = binOf(donorValues[i]);
  return {
    name, value: donorValues[i],
    itemStyle: b === 4
      ? {areaColor: binColors[b], borderColor: binColors[b], borderWidth:0.9}
      : {areaColor: binColors[b], borderColor:'#9a9a9a', borderWidth:0.5}
  };
});

const textGrey = '#5b5b5b';
const lines = [
  ["Gross disbursements and commitments of total Official Development Assistance (ODA) from all donors for aid",61],
  ["for trade. This data is expressed in US dollars. It is adjusted for inflation but does not account for differences in",79],
  ["living costs between countries.",97]
];
const g = [];
function txt(x,y,text,o){ g.push({type:'text',x,y,silent:true,style:Object.assign({text,fill:textGrey,font:'14px Lato',textVerticalAlign:'middle',textBaseline:'middle'},o||{})}); }
txt(16,31,"Total official flows commitments for aid for trade, by donor",{font:'bold 26px "Liberation Serif"',fill:'#3c3c3c'});
txt(683,32,"2024",{font:'18px Lato',fill:'#6e6e6e'});
lines.forEach(l => txt(16,l[1],l[0],{font:'15px Lato'}));
// logo
g.push({type:'rect',shape:{x:769,y:16,width:65,height:36},style:{fill:'#002147'},silent:true});
g.push({type:'rect',shape:{x:769,y:50,width:65,height:2},style:{fill:'#ce261e'},silent:true});
txt(801.5,27,"Our World",{font:'bold 11.5px Lato',fill:'#fff',align:'center',textAlign:'center'});
txt(801.5,39,"in Data",{font:'bold 11.5px Lato',fill:'#fff',align:'center',textAlign:'center'});
// legend
const legY = 501, legH = 12, legX = [268,344,420,496,573,643];
g.push({type:'rect',shape:{x:200.5,y:legY,width:48,height:legH},style:{fill:hatchFill,stroke:'#bdbdbd',lineWidth:0.7},silent:true});
g.push({type:'line',shape:{x1:224.5,y1:legY-3,x2:224.5,y2:legY},style:{stroke:'#bdbdbd',lineWidth:0.7},silent:true});
txt(224.5,490,"No data",{font:'13px Lato',textAlign:'center',align:'center'});
binColors.forEach((c,i) => {
  if (i < 4) g.push({type:'rect',shape:{x:legX[i],y:legY,width:legX[i+1]-legX[i],height:legH},style:{fill:c,stroke:'#9e9e9e',lineWidth:0.5},silent:true});
  else g.push({type:'polygon',shape:{points:[[legX[4],legY],[legX[5],legY],[legX[5]+6,legY+legH/2],[legX[5],legY+legH],[legX[4],legY+legH]]},style:{fill:c},silent:true});
  g.push({type:'line',shape:{x1:legX[i],y1:legY-3,x2:legX[i],y2:legY+legH},style:{stroke:'#8a8a8a',lineWidth:0.7},silent:true});
  txt(legX[i],490,binLabels[i],{font:'13px Lato',textAlign:'center',align:'center'});
});
// footer
const rich = {b:{font:'bold 13px Lato',fill:textGrey}, n:{font:'13px Lato',fill:textGrey}};
function richTxt(x,y,text){ g.push({type:'text',x,y,silent:true,style:{text,rich,fill:textGrey,font:'13px Lato',textBaseline:'middle',verticalAlign:'middle'}}); }
richTxt(16,540,"{b|Data source:} {n|Organisation for Economic Co-operation and Development}");
txt(831,540,"OurWorldinData.org/government-spending | CC BY",{font:'13px Lato',textAlign:'right',align:'right'});
richTxt(16,561,"{b|Note:} {n|This data is expressed in constant 2022 US$. Where data for 2024 is unavailable, the value from the closest year between 2014 and}");
txt(16,576,"2023 is shown instead.",{font:'13px Lato'});

const chart = echarts.init(document.getElementById('c'), null, {renderer:'canvas', width:850, height:600});
chart.setOption({
  animation:false,
  backgroundColor:'#fff',
  graphic:{elements:g},
  series:[{
    type:'map', map:'owid', silent:true, roam:false,
    projection:{project, unproject},
    aspectScale:1,
    left:x0, top:y0, width:x1-x0, height:y1-y0,
    label:{show:false}, emphasis:{disabled:true}, select:{disabled:true},
    itemStyle:{areaColor:hatchFill, borderColor:'#cfcfcf', borderWidth:0.5},
    data: seriesData
  }]
});
</script></body></html>
